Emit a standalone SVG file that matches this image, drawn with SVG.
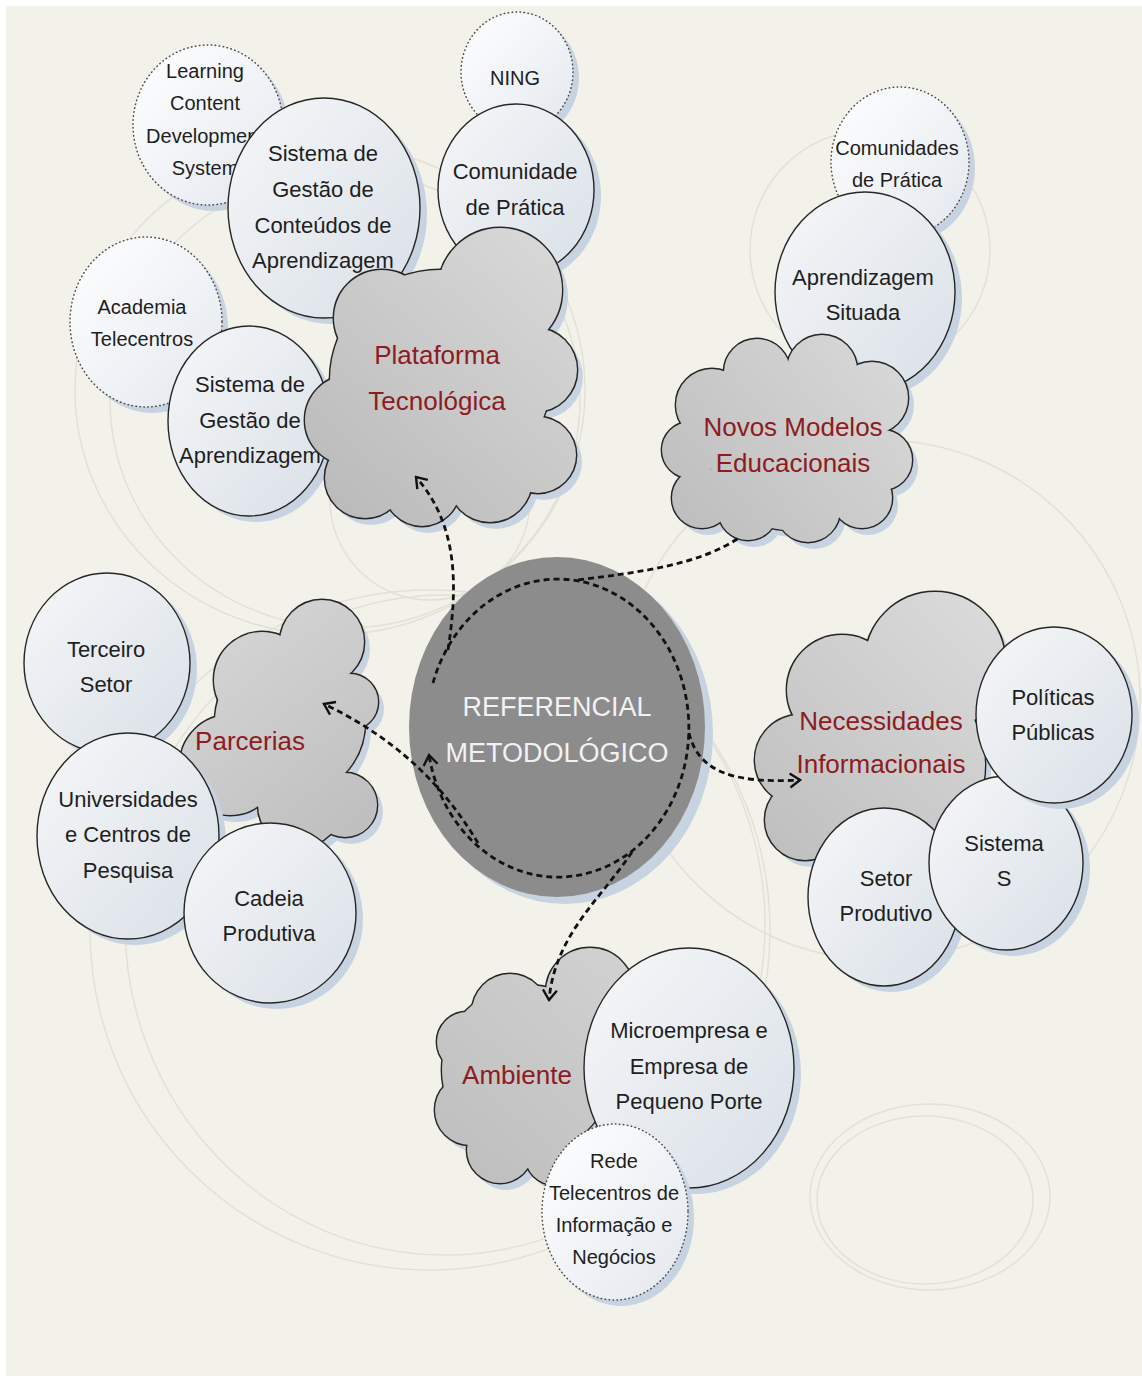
<svg xmlns="http://www.w3.org/2000/svg" xmlns:xlink="http://www.w3.org/1999/xlink" width="1142" height="1376" viewBox="0 0 1142 1376">
<style>
.bgarc{fill:none;stroke:#e1e1d7;stroke-width:1.5}
.shadow{fill:#c7d3e0}
.node{fill:url(#nodeGrad);stroke:#262626;stroke-width:1.4}
.dotted{fill:url(#dotGrad);stroke:#4a4a4a;stroke-width:1.5;stroke-dasharray:0.5 3.5;stroke-linecap:round}
.cstroke{fill:none;stroke:#262626;stroke-width:2.8}
.lbl{font-family:"Liberation Sans",Arial,sans-serif;font-size:22px;fill:#1e1e1e;text-anchor:middle}
.sm{font-size:20px}
.red{font-size:26px;fill:#8c1c22}
.ctr{font-size:27px;fill:#f2f2f2}
.conn{fill:none;stroke:#111;stroke-width:2.8;stroke-dasharray:6 4}
</style>
<defs>
<linearGradient id="nodeGrad" x1="0" y1="0" x2="1" y2="1">
<stop offset="0" stop-color="#f6f7f8"/><stop offset="1" stop-color="#d9e0e8"/>
</linearGradient>
<linearGradient id="dotGrad" x1="0" y1="0" x2="1" y2="1">
<stop offset="0" stop-color="#ffffff"/><stop offset="1" stop-color="#e3e8ef"/>
</linearGradient>
<linearGradient id="gP" gradientUnits="userSpaceOnUse" x1="305" y1="528" x2="575" y2="228">
<stop offset="0" stop-color="#b8b8b8"/><stop offset="1" stop-color="#dadada"/>
</linearGradient>
<linearGradient id="gN" gradientUnits="userSpaceOnUse" x1="662" y1="540" x2="912" y2="337">
<stop offset="0" stop-color="#bcbcbc"/><stop offset="1" stop-color="#dadada"/>
</linearGradient>
<linearGradient id="gPa" gradientUnits="userSpaceOnUse" x1="380" y1="840" x2="190" y2="600">
<stop offset="0" stop-color="#bdbdbd"/><stop offset="1" stop-color="#d8d8d8"/>
</linearGradient>
<linearGradient id="gNe" gradientUnits="userSpaceOnUse" x1="755" y1="860" x2="1005" y2="592">
<stop offset="0" stop-color="#bebebe"/><stop offset="1" stop-color="#dcdcdc"/>
</linearGradient>
<linearGradient id="gA" gradientUnits="userSpaceOnUse" x1="435" y1="1185" x2="634" y2="948">
<stop offset="0" stop-color="#bdbdbd"/><stop offset="1" stop-color="#d2d2d2"/>
</linearGradient>
<g id="cP">
<circle cx="440" cy="380" r="110"/><circle cx="500" cy="290" r="62"/><circle cx="382" cy="318" r="48"/>
<circle cx="350" cy="420" r="45"/><circle cx="365" cy="478" r="40"/><circle cx="422" cy="488" r="38"/>
<circle cx="490" cy="480" r="42"/><circle cx="538" cy="455" r="38"/><circle cx="535" cy="370" r="42"/>
</g>
<g id="cN">
<circle cx="790" cy="448" r="82"/><circle cx="712" cy="405" r="36"/><circle cx="757" cy="372" r="33"/>
<circle cx="822" cy="370" r="35"/><circle cx="872" cy="398" r="36"/><circle cx="882" cy="460" r="30"/>
<circle cx="690" cy="450" r="28"/><circle cx="702" cy="498" r="30"/><circle cx="748" cy="510" r="30"/>
<circle cx="808" cy="510" r="32"/><circle cx="862" cy="498" r="30"/>
</g>
<g id="cPa">
<circle cx="290" cy="722" r="75"/><circle cx="322" cy="642" r="42"/><circle cx="262" cy="680" r="48"/>
<circle cx="350" cy="702" r="28"/><circle cx="345" cy="805" r="32"/><circle cx="300" cy="805" r="42"/>
<circle cx="230" cy="765" r="50"/>
</g>
<g id="cNe">
<circle cx="885" cy="765" r="100"/><circle cx="935" cy="662" r="70"/><circle cx="842" cy="690" r="55"/>
<circle cx="800" cy="760" r="45"/><circle cx="805" cy="820" r="40"/><circle cx="860" cy="840" r="35"/>
</g>
<g id="cA">
<circle cx="527" cy="1070" r="85"/><circle cx="590" cy="992" r="44"/><circle cx="510" cy="1012" r="38"/>
<circle cx="467" cy="1042" r="30"/><circle cx="470" cy="1110" r="35"/><circle cx="500" cy="1150" r="33"/>
<circle cx="555" cy="1155" r="30"/>
</g>
<marker id="chev" viewBox="-12 -9 14 18" refX="0" refY="0" markerWidth="14" markerHeight="18" markerUnits="userSpaceOnUse" orient="auto">
<path d="M-10,-7 L0,0 L-10,7" fill="none" stroke="#111" stroke-width="2.4" stroke-dasharray="none"/>
</marker>
</defs>

<rect x="0" y="0" width="1142" height="1376" fill="#ffffff"/>
<rect x="6" y="6" width="1136" height="1370" fill="#f2f2ea"/>

<g id="background-arcs">
<ellipse class="bgarc" cx="330" cy="390" rx="255" ry="245"/>
<ellipse class="bgarc" cx="345" cy="400" rx="235" ry="228"/>
<ellipse class="bgarc" cx="430" cy="930" rx="340" ry="340"/>
<ellipse class="bgarc" cx="445" cy="925" rx="320" ry="330"/>
<ellipse class="bgarc" cx="930" cy="1197" rx="120" ry="93"/>
<ellipse class="bgarc" cx="925" cy="1200" rx="108" ry="84"/>
<ellipse class="bgarc" cx="870" cy="250" rx="120" ry="120"/>
<ellipse class="bgarc" cx="880" cy="700" rx="260" ry="260"/>
<ellipse class="bgarc" cx="430" cy="500" rx="100" ry="100"/>
</g>

<g id="group-plataforma">
<g id="n-learning">
<ellipse class="shadow" cx="214" cy="131" rx="75" ry="80"/>
<ellipse class="dotted" cx="208" cy="125" rx="75" ry="80"/>
<text class="lbl sm"><tspan x="205" y="78">Learning</tspan><tspan x="205" y="110">Content</tspan><tspan x="205" y="143">Development</tspan><tspan x="205" y="175">System</tspan></text>
</g>
<g id="n-ning">
<ellipse class="shadow" cx="523" cy="78" rx="56" ry="60"/>
<ellipse class="dotted" cx="517" cy="72" rx="56" ry="60"/>
<text class="lbl sm" x="515" y="85">NING</text>
</g>
<g id="n-academia">
<ellipse class="shadow" cx="152" cy="328" rx="76" ry="85"/>
<ellipse class="dotted" cx="146" cy="322" rx="76" ry="85"/>
<text class="lbl sm"><tspan x="142" y="314">Academia</tspan><tspan x="142" y="346">Telecentros</tspan></text>
</g>
<g id="n-sgca">
<ellipse class="shadow" cx="331" cy="214" rx="96" ry="110"/>
<ellipse class="node" cx="324" cy="208" rx="96" ry="110"/>
<text class="lbl"><tspan x="323" y="161">Sistema de</tspan><tspan x="323" y="197">Gestão de</tspan><tspan x="323" y="233">Conteúdos de</tspan><tspan x="323" y="268">Aprendizagem</tspan></text>
</g>
<g id="n-comunidade">
<ellipse class="shadow" cx="523" cy="196" rx="78" ry="86"/>
<ellipse class="node" cx="516" cy="190" rx="78" ry="86"/>
<text class="lbl"><tspan x="515" y="179">Comunidade</tspan><tspan x="515" y="215">de Prática</tspan></text>
</g>
<g id="n-sga">
<ellipse class="shadow" cx="256" cy="427" rx="81" ry="95"/>
<ellipse class="node" cx="249" cy="421" rx="81" ry="95"/>
<text class="lbl"><tspan x="250" y="392">Sistema de</tspan><tspan x="250" y="428">Gestão de</tspan><tspan x="250" y="463">Aprendizagem</tspan></text>
</g>
<g id="n-plataforma">
<use href="#cP" class="shadow" transform="translate(6,7)"/>
<use href="#cP" class="cstroke"/>
<use href="#cP" fill="url(#gP)"/>
<text class="lbl red"><tspan x="437" y="364">Plataforma</tspan><tspan x="437" y="410">Tecnológica</tspan></text>
</g>
</g>

<g id="group-novos">
<g id="n-comunidades">
<ellipse class="shadow" cx="906" cy="168" rx="69" ry="75"/>
<ellipse class="dotted" cx="900" cy="162" rx="69" ry="75"/>
<text class="lbl sm"><tspan x="897" y="155">Comunidades</tspan><tspan x="897" y="187">de Prática</tspan></text>
</g>
<g id="n-aprendizagem">
<ellipse class="shadow" cx="872" cy="298" rx="90" ry="100"/>
<ellipse class="node" cx="865" cy="292" rx="90" ry="100"/>
<text class="lbl"><tspan x="863" y="285">Aprendizagem</tspan><tspan x="863" y="320">Situada</tspan></text>
</g>
<g id="n-novos">
<use href="#cN" class="shadow" transform="translate(6,7)"/>
<use href="#cN" class="cstroke"/>
<use href="#cN" fill="url(#gN)"/>
<text class="lbl red"><tspan x="793" y="436">Novos Modelos</tspan><tspan x="793" y="472">Educacionais</tspan></text>
</g>
</g>

<g id="group-parcerias">
<g id="n-parcerias">
<use href="#cPa" class="shadow" transform="translate(6,7)"/>
<use href="#cPa" class="cstroke"/>
<use href="#cPa" fill="url(#gPa)"/>
<text class="lbl red" x="250" y="750">Parcerias</text>
</g>
<g id="n-terceiro">
<ellipse class="shadow" cx="114" cy="669" rx="83" ry="90"/>
<ellipse class="node" cx="107" cy="663" rx="83" ry="90"/>
<text class="lbl"><tspan x="106" y="657">Terceiro</tspan><tspan x="106" y="692">Setor</tspan></text>
</g>
<g id="n-universidades">
<ellipse class="shadow" cx="135" cy="842" rx="91" ry="103"/>
<ellipse class="node" cx="128" cy="836" rx="91" ry="103"/>
<text class="lbl"><tspan x="128" y="807">Universidades</tspan><tspan x="128" y="842">e Centros de</tspan><tspan x="128" y="878">Pesquisa</tspan></text>
</g>
<g id="n-cadeia">
<ellipse class="shadow" cx="277" cy="919" rx="86" ry="90"/>
<ellipse class="node" cx="270" cy="913" rx="86" ry="90"/>
<text class="lbl"><tspan x="269" y="906">Cadeia</tspan><tspan x="269" y="941">Produtiva</tspan></text>
</g>
</g>

<g id="group-necessidades">
<g id="n-necessidades">
<use href="#cNe" class="shadow" transform="translate(6,7)"/>
<use href="#cNe" class="cstroke"/>
<use href="#cNe" fill="url(#gNe)"/>
<text class="lbl red"><tspan x="881" y="730">Necessidades</tspan><tspan x="881" y="773">Informacionais</tspan></text>
</g>
<g id="n-setor">
<ellipse class="shadow" cx="891" cy="903" rx="76" ry="89"/>
<ellipse class="node" cx="884" cy="897" rx="76" ry="89"/>
<text class="lbl"><tspan x="886" y="886">Setor</tspan><tspan x="886" y="921">Produtivo</tspan></text>
</g>
<g id="n-sistemas">
<ellipse class="shadow" cx="1013" cy="869" rx="77" ry="87"/>
<ellipse class="node" cx="1006" cy="863" rx="77" ry="87"/>
<text class="lbl"><tspan x="1004" y="851">Sistema</tspan><tspan x="1004" y="886">S</tspan></text>
</g>
<g id="n-politicas">
<ellipse class="shadow" cx="1061" cy="721" rx="78" ry="88"/>
<ellipse class="node" cx="1054" cy="715" rx="78" ry="88"/>
<text class="lbl"><tspan x="1053" y="705">Políticas</tspan><tspan x="1053" y="740">Públicas</tspan></text>
</g>
</g>

<g id="group-ambiente">
<g id="n-ambiente">
<use href="#cA" class="shadow" transform="translate(6,7)"/>
<use href="#cA" class="cstroke"/>
<use href="#cA" fill="url(#gA)"/>
<text class="lbl red" x="517" y="1084">Ambiente</text>
</g>
<g id="n-microempresa">
<ellipse class="shadow" cx="696" cy="1074" rx="105" ry="120"/>
<ellipse class="node" cx="689" cy="1068" rx="105" ry="120"/>
<text class="lbl"><tspan x="689" y="1038">Microempresa e</tspan><tspan x="689" y="1074">Empresa de</tspan><tspan x="689" y="1109">Pequeno Porte</tspan></text>
</g>
<g id="n-rede">
<ellipse class="shadow" cx="621" cy="1218" rx="73" ry="88"/>
<ellipse class="dotted" cx="615" cy="1212" rx="73" ry="88"/>
<text class="lbl sm"><tspan x="614" y="1168">Rede</tspan><tspan x="614" y="1200">Telecentros de</tspan><tspan x="614" y="1232">Informação e</tspan><tspan x="614" y="1264">Negócios</tspan></text>
</g>
</g>

<g id="n-referencial">
<ellipse class="shadow" cx="565" cy="734" rx="148" ry="170"/>
<ellipse cx="557" cy="727" rx="148" ry="170" fill="#8c8c8c"/>
<text class="lbl ctr"><tspan x="557" y="716">REFERENCIAL</tspan><tspan x="557" y="762">METODOLÓGICO</tspan></text>
</g>

<g id="connectors">
<path class="conn" d="M 433 683 A 131 149 0 1 1 429 755" marker-end="url(#chev)"/>
<path class="conn" d="M 448 650 C 458 585 458 525 416 477" marker-end="url(#chev)"/>
<path class="conn" d="M 578 580 C 640 572 700 565 740 537"/>
<path class="conn" d="M 689 733 C 698 770 730 784 800 780" marker-end="url(#chev)"/>
<path class="conn" d="M 632 852 C 600 900 555 935 549 1000" marker-end="url(#chev)"/>
<path class="conn" d="M 478 843 C 452 800 410 745 324 704" marker-end="url(#chev)"/>
</g>
</svg>
